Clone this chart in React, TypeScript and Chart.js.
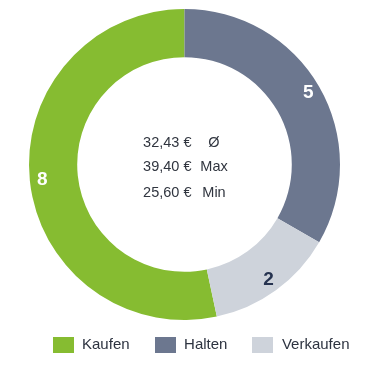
import React, { useEffect, useRef } from "react";
import { Chart, registerables } from "chart.js";

Chart.register(...registerables);

const categories = ["Kaufen", "Halten", "Verkaufen"];
const counts = [8, 5, 2];
const colors = ["#86bc31", "#6c778f", "#ced3db"];
const labelColors = ["#ffffff", "#ffffff", "#263350"];
const statValues = ["32,43 €", "39,40 €", "25,60 €"];
const statLabels = ["Ø", "Max", "Min"];

const FONT = "'Liberation Sans', Arial, sans-serif";

function makeSwatch(color: string) {
  const c = document.createElement("canvas");
  c.width = 21;
  c.height = 16;
  const g = c.getContext("2d")!;
  g.fillStyle = color;
  g.fillRect(0, 0, 21, 16);
  return c;
}

const sliceLabels = {
  id: "sliceLabels",
  afterDatasetsDraw(chart: any) {
    const ctx = chart.ctx;
    const meta = chart.getDatasetMeta(0);
    ctx.save();
    ctx.font = `bold 19px ${FONT}`;
    ctx.textAlign = "center";
    ctx.textBaseline = "middle";
    meta.data.forEach((arc: any, i: number) => {
      const { x, y, startAngle, endAngle, innerRadius, outerRadius } = arc.getProps(
        ["x", "y", "startAngle", "endAngle", "innerRadius", "outerRadius"],
        true
      );
      const mid = (startAngle + endAngle) / 2;
      const r = innerRadius + (outerRadius - innerRadius) * 0.74;
      ctx.fillStyle = labelColors[i];
      ctx.fillText(String(counts[i]), x + Math.cos(mid) * r, y + Math.sin(mid) * r);
    });
    ctx.restore();
  },
};

const centerText = {
  id: "centerText",
  afterDatasetsDraw(chart: any) {
    const ctx = chart.ctx;
    const arc = chart.getDatasetMeta(0).data[0];
    if (!arc) return;
    const cx = arc.x;
    const cy = arc.y;
    ctx.save();
    ctx.font = `14.5px ${FONT}`;
    ctx.fillStyle = "#30353f";
    ctx.textBaseline = "middle";
    const offsets = [-22, 2, 28];
    statValues.forEach((v, i) => {
      const y = cy + offsets[i];
      ctx.textAlign = "right";
      ctx.fillText(v, cx + 7, y);
      ctx.textAlign = "center";
      ctx.fillText(statLabels[i], cx + 29.5, y);
    });
    ctx.restore();
  },
};

const legendPlacement = {
  id: "legendPlacement",
  beforeInit(chart: any) {
    const legend = chart.legend;
    if (!legend) return;
    const origFit = legend.fit.bind(legend);
    legend.fit = function () {
      origFit();
      this.height = 44;
    };
  },
  afterLayout(chart: any) {
    const legend = chart.legend;
    if (!legend) return;
    const dx = 16;
    const dy = -6.5;
    legend.left += dx;
    legend.right += dx;
    legend.top += dy;
    legend.bottom += dy;
  },
};

export default function App() {
  const ref = useRef<HTMLCanvasElement>(null);
  useEffect(() => {
    if (!ref.current) return;
    const swatches = colors.map(makeSwatch);
    const defaultGen = (Chart as any).overrides.doughnut.plugins.legend.labels.generateLabels;
    const chart = new Chart(ref.current, {
      type: "doughnut",
      data: {
        labels: categories,
        datasets: [
          {
            data: counts,
            backgroundColor: colors,
            borderWidth: 0,
            hoverOffset: 0,
          },
        ],
      },
      options: {
        animation: false,
        responsive: false,
        maintainAspectRatio: false,
        rotation: 168,
        cutout: "69%",
        layout: { padding: { top: 1, left: 0, right: 7, bottom: 0 } },
        plugins: {
          tooltip: { enabled: false },
          legend: {
            position: "bottom",
            labels: {
              usePointStyle: true,
              pointStyleWidth: 23,
              boxHeight: 16,
              padding: 24,
              color: "#2d3340",
              font: { family: FONT, size: 15 },
              generateLabels(c: any) {
                const items = defaultGen(c);
                items.forEach((it: any, i: number) => {
                  it.pointStyle = swatches[i];
                });
                return items;
              },
            },
          },
        },
      },
      plugins: [sliceLabels, centerText, legendPlacement],
    });
    return () => chart.destroy();
  }, []);
  return (
    <div style={{ width: 360, height: 356 }}>
      <canvas ref={ref} width={360} height={356} />
    </div>
  );
}
